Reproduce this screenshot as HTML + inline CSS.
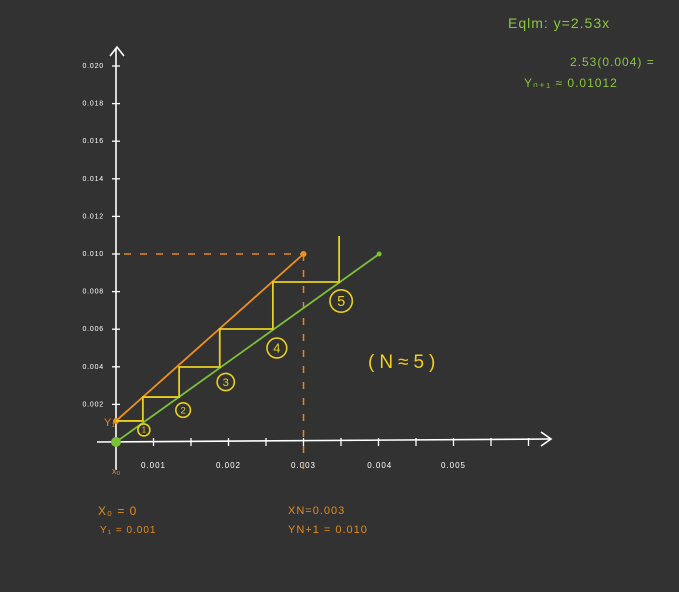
<!DOCTYPE html>
<html><head><meta charset="utf-8"><style>
html,body{margin:0;padding:0;background:#323232;}
svg{display:block;}
text{font-family:"Liberation Sans",sans-serif;}
</style></head><body>
<svg id="chart" width="679" height="592" viewBox="0 0 679 592" xmlns="http://www.w3.org/2000/svg">
<rect width="679" height="592" fill="#323232"/>
<g id="axes"></g>
<g id="marks"></g>
<text x="508" y="28" fill="#8cc63f" font-size="14" letter-spacing="1">Eqlm: y=2.53x</text>
<text x="570" y="66" fill="#8cc63f" font-size="12" letter-spacing="1">2.53(0.004) =</text>
<text x="524" y="87" fill="#8cc63f" font-size="12" letter-spacing="1">Yₙ₊₁ ≈ 0.01012</text>
<text x="368" y="368" fill="#f0d020" font-size="19" letter-spacing="5">(N≈5)</text>
<text x="112" y="474" fill="#e08a20" font-size="9">x₀</text>
<text x="104" y="426" fill="#e08a20" font-size="11">Y₁</text>
<text x="98" y="515" fill="#e08a20" font-size="12" letter-spacing="1">X₀ = 0</text>
<text x="100" y="533" fill="#e08a20" font-size="10" letter-spacing="1">Y₁ = 0.001</text>
<text x="288" y="514" fill="#e08a20" font-size="11" letter-spacing="1">XN=0.003</text>
<text x="288" y="533" fill="#e08a20" font-size="11" letter-spacing="1">YN+1 = 0.010</text>
</svg>
<script>
const xTickLabels = ["0.001","0.002","0.003","0.004","0.005"];
const xTickLabelAt = [0.0006,0.0018,0.003,0.00422,0.0054];
const yTicks = [0.002,0.004,0.006,0.008,0.010,0.012,0.014,0.016,0.018,0.020];
const yTickLabels = ["0.002","0.004","0.006","0.008","0.010","0.012","0.014","0.016","0.018","0.020"];
const eqX = [0, 0.00421];
const eqY = [0, 0.0100];
const opX = [0, 0.003];
const opY = [0.00112, 0.0100];
const stageX = [0.00043, 0.00101, 0.00166, 0.00251, 0.00357];
const stageY = [0.00112, 0.00239, 0.00399, 0.00601, 0.00851, 0.01096];
const stageLabels = ["1","2","3","4","5"];

const NS="http://www.w3.org/2000/svg";
const X0=116, Y0=442, XS=62.5/0.001, YS=18.8/0.001;
const sx=v=>X0+v*XS, sy=v=>Y0-v*YS;
const circDx=[1,4,6,4,2], circDy=[9,13,15,19,19];
function mk(tag,attrs,parent,txt){const e=document.createElementNS(NS,tag);for(const k in attrs)e.setAttribute(k,attrs[k]);if(txt!==undefined)e.textContent=txt;parent.appendChild(e);return e;}
const ax=document.getElementById('axes'), mg=document.getElementById('marks');
let e;
e=mk('line',{x1:X0,y1:470,x2:X0,y2:48,stroke:'#fff','stroke-width':1.6},ax);


e=mk('path',{d:'M110 56 L117 47 L124 56',stroke:'#fff','stroke-width':1.6,fill:'none'},ax);


e=mk('line',{x1:97,y1:Y0,x2:550,y2:439,stroke:'#fff','stroke-width':1.6},ax);


e=mk('path',{d:'M541 432 L551 439 L541 446',stroke:'#fff','stroke-width':1.6,fill:'none'},ax);


for(let k=1;k<=11;k++){
 const px=X0+k*37.5;
 e=mk('line',{x1:px,y1:Y0-4,x2:px,y2:Y0+4,stroke:'#fff','stroke-width':1.3},ax);
 
 
}
xTickLabels.forEach((t,i)=>{
 e=mk('text',{x:sx(xTickLabelAt[i]),y:Y0+26,fill:'#fff','font-size':8,'text-anchor':'middle','letter-spacing':1},ax,t);
 
 
});
yTicks.forEach((v,i)=>{
 e=mk('line',{x1:X0-4,y1:sy(v),x2:X0+4,y2:sy(v),stroke:'#fff','stroke-width':1.3},ax);
 
 
 e=mk('text',{x:X0-12,y:sy(v)+2,fill:'#fff','font-size':7,'text-anchor':'end','letter-spacing':0.8},ax,yTickLabels[i]);
 
 
});
e=mk('path',{d:`M${X0+8} ${sy(opY[1])} L${sx(opX[1])} ${sy(opY[1])} M${sx(opX[1])} ${sy(opY[1])} L${sx(opX[1])} ${Y0+30}`,stroke:'#e08a20','stroke-width':1.5,'stroke-dasharray':'7 9',fill:'none'},mg);


e=mk('line',{x1:sx(eqX[0]),y1:sy(eqY[0]),x2:sx(eqX[1]),y2:sy(eqY[1]),stroke:'#7cc03a','stroke-width':1.8},mg);


e=mk('circle',{cx:sx(eqX[1]),cy:sy(eqY[1]),r:2.5,fill:'#7cc03a'},mg);


e=mk('circle',{cx:sx(eqX[0]),cy:sy(eqY[0]),r:5,fill:'#7cc03a'},mg);


e=mk('line',{x1:sx(opX[0]),y1:sy(opY[0]),x2:sx(opX[1]),y2:sy(opY[1]),stroke:'#f0901e','stroke-width':1.8},mg);


e=mk('circle',{cx:sx(opX[1]),cy:sy(opY[1]),r:3,fill:'#f0901e'},mg);


e=mk('circle',{cx:sx(opX[0]),cy:sy(opY[0]),r:3,fill:'#f0901e'},mg);


let d=`M${sx(0)} ${sy(stageY[0])}`;
stageX.forEach((x,i)=>{d+=` L${sx(x)} ${sy(stageY[i])} L${sx(x)} ${sy(stageY[i+1])}`;});
e=mk('path',{d:d,stroke:'#e8d020','stroke-width':1.8,fill:'none'},mg);


stageX.forEach((x,i)=>{
 const cx=sx(x)+circDx[i], cy=sy(stageY[i])+circDy[i], r=6+i*1.3;
 e=mk('circle',{cx:cx,cy:cy,r:r,stroke:'#e8d020','stroke-width':1.6,fill:'none'},mg);
 
 
 e=mk('text',{x:cx,y:cy+r*0.45,fill:'#e8d020','font-size':r*1.3,'text-anchor':'middle'},mg,stageLabels[i]);
 
 
});
</script>
</body></html>
